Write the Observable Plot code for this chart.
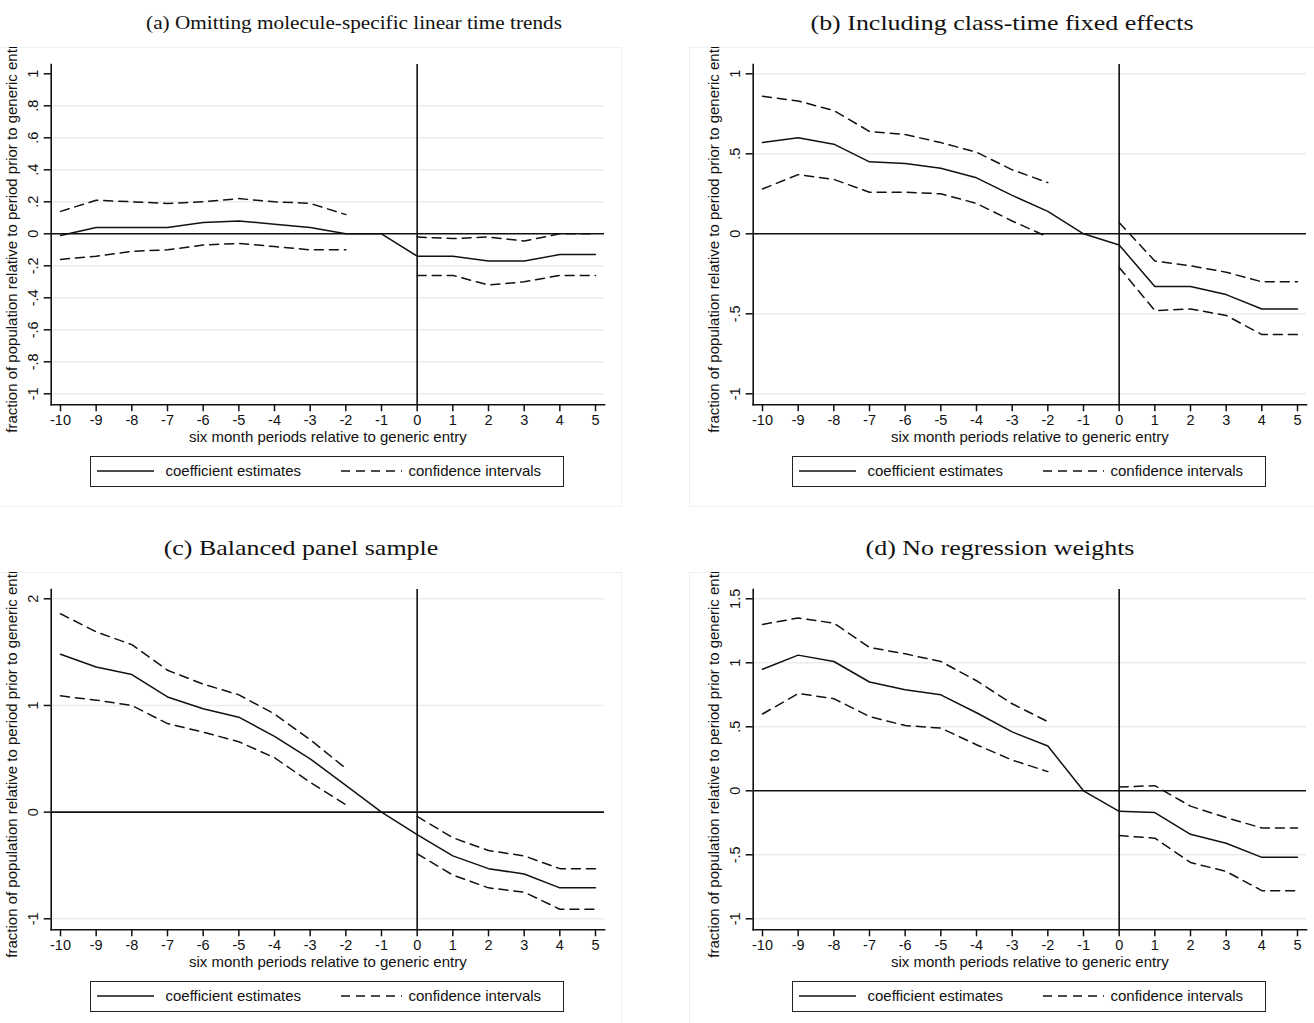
<!DOCTYPE html>
<html>
<head>
<meta charset="utf-8">
<script src="https://cdn.jsdelivr.net/npm/d3@7"></script>
<script src="https://cdn.jsdelivr.net/npm/@observablehq/plot@0.6"></script>
<style>
  html, body { margin: 0; padding: 0; background: #fff; overflow: hidden; }
  #page { position: relative; width: 1314px; height: 1023px; overflow: hidden; background: #fff; }
  .panel { position: absolute; width: 635px; height: 460px; outline: 1px solid #eef1f1; outline-offset: -1px; }
  .panel svg { position: absolute; left: 0; top: 0; overflow: hidden !important; }
  .title { position: absolute; font-family: "Liberation Serif", serif; font-size: 22px; line-height: 22px;
           white-space: nowrap; color: #111; transform: translate(-50%, -50%) scaleX(1.18); }
  .legend { position: absolute; left: 103px; top: 409px; width: 474px; height: 31px; box-sizing: border-box;
            border: 1.5px solid #222; font-family: "Liberation Sans", Arial, sans-serif; font-size: 15px; color: #111; }
  .legend svg { position: absolute; overflow: visible; }
  .legend span { position: absolute; top: 5px; white-space: nowrap; }
</style>
</head>
<body>
<div id="page"></div>
<script>
// Event-study periods (six-month periods relative to generic entry)
const periods = [-10, -9, -8, -7, -6, -5, -4, -3, -2, -1, 0, 1, 2, 3, 4, 5];
const xLabels = ["-10", "-9", "-8", "-7", "-6", "-5", "-4", "-3", "-2", "-1", "0", "1", "2", "3", "4", "5"];
const prePeriods = [-10, -9, -8, -7, -6, -5, -4, -3, -2];
const postPeriods = [0, 1, 2, 3, 4, 5];

const titles = [
  "(a) Omitting molecule-specific linear time trends",
  "(b) Including class-time fixed effects",
  "(c) Balanced panel sample",
  "(d) No regression weights"
];
const xTitle = "six month periods relative to generic entry";
const yTitle = "fraction of population relative to period prior to generic entry";
const legendLabels = ["coefficient estimates", "confidence intervals"];

// (a) Omitting molecule-specific linear time trends
const coefA     = [-0.01, 0.04, 0.04, 0.04, 0.07, 0.08, 0.06, 0.04, 0.00, 0.00, -0.14, -0.14, -0.17, -0.17, -0.13, -0.13];
const upperPreA = [0.14, 0.21, 0.20, 0.19, 0.20, 0.22, 0.20, 0.19, 0.12];
const lowerPreA = [-0.16, -0.14, -0.11, -0.10, -0.07, -0.06, -0.08, -0.10, -0.10];
const upperPostA = [-0.02, -0.03, -0.02, -0.045, 0.00, 0.00];
const lowerPostA = [-0.26, -0.26, -0.32, -0.30, -0.26, -0.26];
const yTicksA  = [-1, -0.8, -0.6, -0.4, -0.2, 0, 0.2, 0.4, 0.6, 0.8, 1];
const yLabelsA = ["-1", "-.8", "-.6", "-.4", "-.2", "0", ".2", ".4", ".6", ".8", "1"];
const gridA    = [-1, -0.8, -0.6, -0.4, -0.2, 0.2, 0.4, 0.6, 0.8];

// (b) Including class-time fixed effects
const coefB     = [0.57, 0.60, 0.56, 0.45, 0.44, 0.41, 0.35, 0.24, 0.14, 0.00, -0.07, -0.33, -0.33, -0.38, -0.47, -0.47];
const upperPreB = [0.86, 0.83, 0.77, 0.64, 0.62, 0.57, 0.51, 0.40, 0.32];
const lowerPreB = [0.28, 0.37, 0.34, 0.26, 0.26, 0.25, 0.19, 0.08, -0.02];
const upperPostB = [0.07, -0.17, -0.20, -0.24, -0.30, -0.30];
const lowerPostB = [-0.21, -0.48, -0.47, -0.51, -0.63, -0.63];
const yTicksB  = [-1, -0.5, 0, 0.5, 1];
const yLabelsB = ["-1", "-.5", "0", ".5", "1"];
const gridB    = [-1, -0.5, 0.5, 1];

// (c) Balanced panel sample
const coefC     = [1.48, 1.36, 1.29, 1.08, 0.97, 0.89, 0.71, 0.50, 0.25, 0.00, -0.21, -0.41, -0.53, -0.58, -0.71, -0.71];
const upperPreC = [1.86, 1.69, 1.57, 1.33, 1.20, 1.10, 0.92, 0.68, 0.41];
const lowerPreC = [1.09, 1.05, 1.00, 0.83, 0.75, 0.66, 0.51, 0.28, 0.07];
const upperPostC = [-0.04, -0.24, -0.36, -0.41, -0.53, -0.53];
const lowerPostC = [-0.39, -0.59, -0.71, -0.75, -0.91, -0.91];
const yTicksC  = [-1, 0, 1, 2];
const yLabelsC = ["-1", "0", "1", "2"];
const gridC    = [-1, 1, 2];

// (d) No regression weights
const coefD     = [0.95, 1.06, 1.01, 0.85, 0.79, 0.75, 0.61, 0.46, 0.35, 0.00, -0.16, -0.17, -0.34, -0.41, -0.52, -0.52];
const upperPreD = [1.30, 1.35, 1.31, 1.12, 1.07, 1.01, 0.86, 0.68, 0.54];
const lowerPreD = [0.60, 0.76, 0.72, 0.58, 0.51, 0.49, 0.36, 0.24, 0.15];
const upperPostD = [0.03, 0.04, -0.12, -0.21, -0.29, -0.29];
const lowerPostD = [-0.35, -0.37, -0.56, -0.63, -0.78, -0.78];
const yTicksD  = [-1, -0.5, 0, 0.5, 1, 1.5];
const yLabelsD = ["-1", "-.5", "0", ".5", "1", "1.5"];
const gridD    = [-1, -0.5, 0.5, 1, 1.5];

const panels = [
  {coef: coefA, upPre: upperPreA, loPre: lowerPreA, upPost: upperPostA, loPost: lowerPostA, ticks: yTicksA, labels: yLabelsA, grid: gridA, left: -13, top: 47, titleX: 354, titleY: 23, titleSize: 18},
  {coef: coefB, upPre: upperPreB, loPre: lowerPreB, upPost: upperPostB, loPost: lowerPostB, ticks: yTicksB, labels: yLabelsB, grid: gridB, left: 689, top: 47, titleX: 1002, titleY: 23, titleSize: 22},
  {coef: coefC, upPre: upperPreC, loPre: lowerPreC, upPost: upperPostC, loPost: lowerPostC, ticks: yTicksC, labels: yLabelsC, grid: gridC, left: -13, top: 572, titleX: 301, titleY: 548, titleSize: 22},
  {coef: coefD, upPre: upperPreD, loPre: lowerPreD, upPost: upperPostD, loPost: lowerPostD, ticks: yTicksD, labels: yLabelsD, grid: gridD, left: 689, top: 572, titleX: 1000, titleY: 548, titleSize: 22}
];

const ink = "#111";
const xLabelOf = new Map(periods.map((p, i) => [p, xLabels[i]]));

function drawPanel(cfg) {
  const coefRows = periods.map((p, i) => ({p, v: cfg.coef[i]}));
  const ciRows = [
    ...prePeriods.map((p, i) => ({p, v: cfg.upPre[i], seg: "upper-pre"})),
    ...prePeriods.map((p, i) => ({p, v: cfg.loPre[i], seg: "lower-pre"})),
    ...postPeriods.map((p, i) => ({p, v: cfg.upPost[i], seg: "upper-post"})),
    ...postPeriods.map((p, i) => ({p, v: cfg.loPost[i], seg: "lower-post"}))
  ];
  const yLabelOf = new Map(cfg.ticks.map((t, i) => [t, cfg.labels[i]]));
  const lo = cfg.ticks[0], hi = cfg.ticks[cfg.ticks.length - 1];

  return Plot.plot({
    width: 635,
    height: 402,
    marginLeft: 63.7,
    marginRight: 18,
    marginTop: 17,
    marginBottom: 44.7,
    style: {fontFamily: "'Liberation Sans', Arial, sans-serif", color: ink, background: "transparent"},
    x: {domain: [-10, 5], range: [73, 608]},
    y: {domain: [lo, hi], range: [346.3, 26.3]},
    marks: [
      Plot.ruleY(cfg.grid, {stroke: "#e6eeee", strokeWidth: 1.5}),
      Plot.ruleY([0], {stroke: ink, strokeWidth: 1.6}),
      Plot.ruleX([0], {stroke: ink, strokeWidth: 1.6}),
      Plot.line(ciRows, {x: "p", y: "v", z: "seg", stroke: ink, strokeWidth: 1.5, strokeDasharray: "9,6"}),
      Plot.line(coefRows, {x: "p", y: "v", stroke: ink, strokeWidth: 1.5}),
      Plot.frame({anchor: "left", stroke: ink, strokeWidth: 1.6}),
      Plot.frame({anchor: "bottom", stroke: ink, strokeWidth: 1.6}),
      Plot.axisY(cfg.ticks, {tickSize: 7, strokeWidth: 1.5, tickFormat: () => "", label: null}),
      Plot.text(cfg.ticks, {y: d => d, text: d => yLabelOf.get(d), frameAnchor: "left", textAnchor: "middle", lineAnchor: "middle", rotate: -90, dx: -17.7, fontSize: 14.5}),
      Plot.axisX(periods, {tickSize: 7, strokeWidth: 1.5, tickPadding: 3, tickFormat: d => xLabelOf.get(d), label: null, fontSize: 14.5}),
      Plot.text([xTitle], {frameAnchor: "bottom", text: d => d, textAnchor: "middle", lineAnchor: "middle", dy: 32.7, fontSize: 15}),
      Plot.text([yTitle], {frameAnchor: "left", text: d => d, textAnchor: "middle", lineAnchor: "middle", rotate: -90, dx: -38.7, fontSize: 15})
    ]
  });
}

function drawLegend() {
  const box = document.createElement("div");
  box.className = "legend";
  box.innerHTML =
    `<svg style="left:5.5px;top:12.8px" width="58" height="2"><line x1="0" y1="1" x2="57" y2="1" stroke="${ink}" stroke-width="1.5"/></svg>` +
    `<span style="left:74.5px">${legendLabels[0]}</span>` +
    `<svg style="left:249.5px;top:12.8px" width="62" height="2"><line x1="0" y1="1" x2="61" y2="1" stroke="${ink}" stroke-width="1.5" stroke-dasharray="9,6"/></svg>` +
    `<span style="left:317.5px">${legendLabels[1]}</span>`;
  return box;
}

const page = document.getElementById("page");
panels.forEach((cfg, i) => {
  const t = document.createElement("div");
  t.className = "title";
  t.style.left = cfg.titleX + "px";
  t.style.top = cfg.titleY + "px";
  t.style.fontSize = cfg.titleSize + "px";
  t.style.lineHeight = cfg.titleSize + "px";
  t.textContent = titles[i];
  page.appendChild(t);

  const div = document.createElement("div");
  div.className = "panel";
  div.style.left = cfg.left + "px";
  div.style.top = cfg.top + "px";
  div.appendChild(drawPanel(cfg));
  div.appendChild(drawLegend());
  page.appendChild(div);
});
</script>
</body>
</html>
